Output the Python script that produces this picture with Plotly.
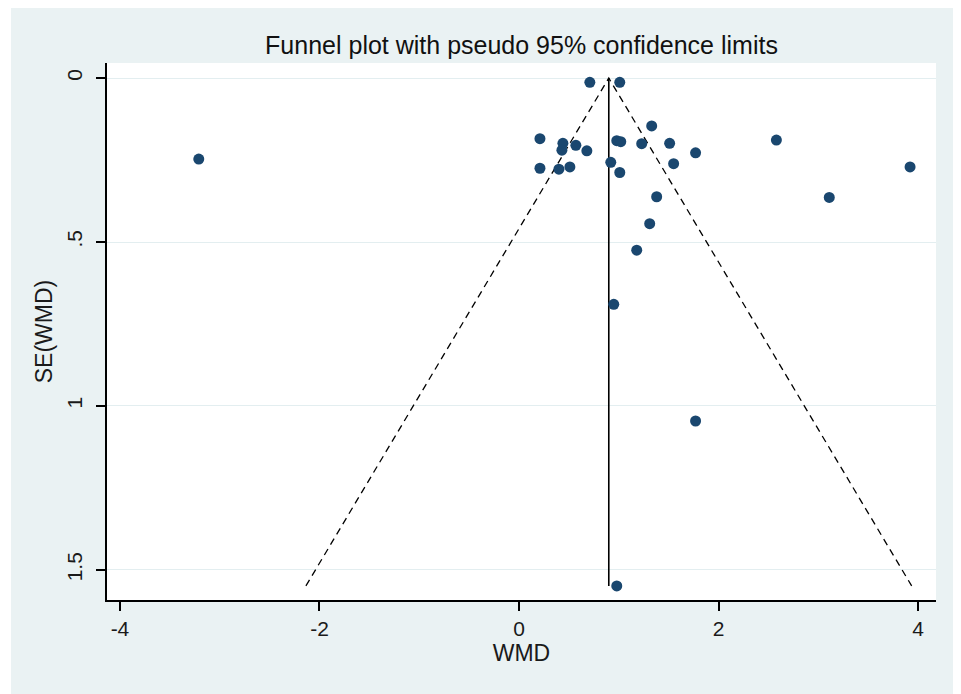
import plotly.graph_objects as go

# Study estimates (weighted mean difference) and their standard errors
wmd = [-3.21, 0.71, 1.01, 1.33, 0.21, 0.44, 0.43, 0.57, 0.68, 0.21,
       0.40, 0.51, 0.92, 1.01, 0.98, 1.02, 1.23, 1.51, 1.55, 1.77,
       2.58, 3.11, 3.92, 1.38, 1.31, 1.18, 0.95, 1.77, 0.98]
se = [0.247, 0.013, 0.013, 0.146, 0.185, 0.199, 0.220, 0.205, 0.222, 0.275,
      0.278, 0.271, 0.257, 0.288, 0.191, 0.194, 0.200, 0.199, 0.261, 0.228,
      0.189, 0.364, 0.271, 0.362, 0.444, 0.525, 0.690, 1.046, 1.549]

pooled = 0.90
z95 = 1.96
se_max = max(se)

x_ticks = [-4, -2, 0, 2, 4]
x_ticktext = ["-4", "-2", "0", "2", "4"]
y_ticks = [0, 0.5, 1, 1.5]
y_ticktext = ["0", ".5", "1", "1.5"]

FONT = "Liberation Sans, Arial, sans-serif"
BG = "#eaf2f3"
NAVY = "#1a476f"

fig = go.Figure()

# pseudo 95% confidence limits
fig.add_trace(go.Scatter(
    x=[pooled - z95 * se_max, pooled, pooled + z95 * se_max],
    y=[se_max, 0, se_max],
    mode="lines", line=dict(color="black", width=1.3, dash="7px,5px"),
    hoverinfo="skip", showlegend=False))
# pooled estimate line
fig.add_trace(go.Scatter(
    x=[pooled, pooled], y=[0, se_max],
    mode="lines", line=dict(color="black", width=1.6),
    hoverinfo="skip", showlegend=False))
# studies
fig.add_trace(go.Scatter(
    x=wmd, y=se, mode="markers",
    marker=dict(color=NAVY, size=11, line=dict(width=0)),
    showlegend=False))

W, H = 953, 686
L, R, T, B = 99, 25, 55, 94
pw = W - L - R
ph = H - T - B

def px_x(p):
    return (p - L) / pw

def px_y(p):
    return (H - B - p) / ph

shapes = [
    # extra white strip on the left of the outer frame
    dict(type="rect", xref="paper", yref="paper", x0=px_x(0), x1=px_x(3),
         y0=px_y(H), y1=px_y(0), fillcolor="white", line=dict(width=0), layer="above"),
]

fig.update_layout(
    width=W, height=H,
    margin=dict(l=L, r=R, t=T, b=B),
    paper_bgcolor=BG, plot_bgcolor="white",
    font=dict(family=FONT, color="#1a1a1a", size=20),
    title=dict(text="Funnel plot with pseudo 95% confidence limits",
               x=0.5, xref="paper", xanchor="center",
               y=1 - 37 / H, yanchor="middle",
               font=dict(family=FONT, size=25, color="#111111")),
    shapes=shapes,
    xaxis=dict(range=[-4.13, 4.18], tickvals=x_ticks, ticktext=x_ticktext,
               ticks="outside", ticklen=9, tickwidth=1.5, tickcolor="black",
               showline=True, linecolor="black", linewidth=1.5,
               showgrid=False, zeroline=False,
               tickfont=dict(size=21),
               title=dict(text="WMD", font=dict(size=23), standoff=0)),
    yaxis=dict(range=[1.592, -0.046], tickvals=y_ticks, ticktext=y_ticktext,
               tickangle=-90, ticklabelstandoff=6,
               ticks="outside", ticklen=9, tickwidth=1.5, tickcolor="black",
               showline=True, linecolor="black", linewidth=1.5,
               showgrid=True, gridcolor="#e3eef0", gridwidth=1,
               zeroline=False,
               tickfont=dict(size=21),
               title=dict(text="SE(WMD)", font=dict(size=23), standoff=4)),
)

fig.write_html("out.html")
